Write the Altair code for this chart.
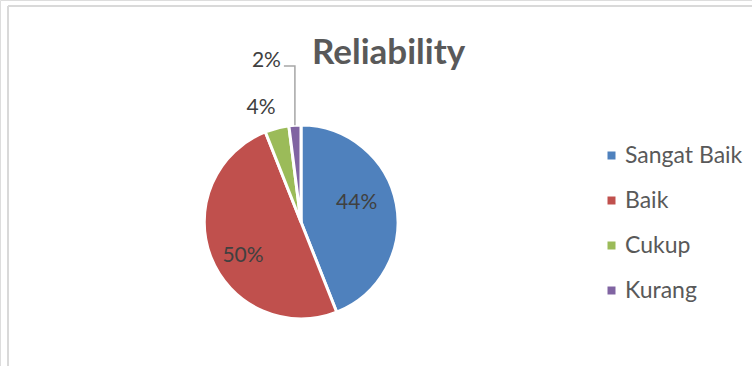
import math
import altair as alt
import pandas as pd

# Survey answers for the "Reliability" dimension
categories = ["Sangat Baik", "Baik", "Cukup", "Kurang"]
percentages = [44, 50, 4, 2]
colors = ["#4f81bd", "#c0504d", "#9bbb59", "#8064a2"]

# data-label placement: distance from the pie centre and angular nudge (degrees)
label_radius = {"Sangat Baik": 59, "Baik": 67, "Cukup": 121, "Kurang": 0}
label_nudge = {"Sangat Baik": -8.4, "Baik": -8.4, "Cukup": -4.9, "Kurang": 0}

FONT = "Lato"
W, H = 752, 366
CX, CY, R = 301, 222, 97

df = pd.DataFrame({
    "category": categories,
    "value": percentages,
    "order": list(range(len(categories))),
})
df["label"] = df["value"].astype(str) + "%"
df["lr"] = df["category"].map(label_radius)
df["nudge"] = df["category"].map(label_nudge)

color_scale = alt.Scale(domain=categories, range=colors)

arcs = alt.Chart(df).mark_arc(outerRadius=R, stroke="white", strokeWidth=3).encode(
    theta=alt.Theta("value:Q", stack=True),
    order=alt.Order("order:Q"),
    x=alt.value(CX),
    y=alt.value(CY),
    color=alt.Color(
        "category:N",
        scale=color_scale,
        sort=categories,
        legend=alt.Legend(
            title=None,
            orient="none",
            legendX=600,
            legendY=144,
            symbolType="square",
            symbolSize=64,
            symbolStrokeWidth=0,
            labelFont=FONT,
            labelFontSize=23,
            labelColor="#595959",
            labelOffset=2,
            rowPadding=21,
            padding=0,
        ),
    ),
)

# in-slice / near-slice percentage labels, placed at each slice's mid angle
labels = (
    alt.Chart(df)
    .transform_joinaggregate(total="sum(value)")
    .transform_window(cum="sum(value)", sort=[alt.SortField("order")], frame=[None, 0])
    .transform_calculate(
        ang="2 * PI * (datum.cum - datum.value / 2) / datum.total + datum.nudge * PI / 180"
    )
    .transform_calculate(
        px=f"{CX} + datum.lr * sin(datum.ang)",
        py=f"{CY} - datum.lr * cos(datum.ang)",
    )
    .transform_filter(alt.datum.lr > 0)
    .mark_text(font=FONT, fontSize=21, color="#404040")
    .encode(
        x=alt.X("px:Q", scale=None),
        y=alt.Y("py:Q", scale=None),
        text="label:N",
    )
)

# leader line and label for the smallest slice
total = sum(percentages)
start = sum(percentages[:3]) / total * 2 * math.pi
end = start + percentages[3] / total * 2 * math.pi
mid = (start + end) / 2
lx = CX + R * math.sin(mid)
ly0 = CY - R * math.cos(mid)
ly = 66
leader_df = pd.DataFrame({"x": [lx, lx, lx - 11], "y": [ly0, ly, ly], "i": [0, 1, 2]})
leader = alt.Chart(leader_df).mark_line(color="#a6a6a6", strokeWidth=1.5).encode(
    x=alt.X("x:Q", scale=None),
    y=alt.Y("y:Q", scale=None),
    order="i:Q",
)
small_label = alt.Chart(
    pd.DataFrame({"x": [lx - 14], "y": [ly - 5], "label": [f"{percentages[3]}%"]})
).mark_text(font=FONT, fontSize=21, color="#404040", align="right", baseline="middle").encode(
    x=alt.X("x:Q", scale=None),
    y=alt.Y("y:Q", scale=None),
    text="label:N",
)

# chart-area border (left and top edges)
one = pd.DataFrame({"k": [0]})
frame_left = alt.Chart(one).mark_rule(color="#d9d9d9", strokeWidth=2).encode(
    x=alt.value(8), y=alt.value(6), y2=alt.value(H)
)
frame_top = alt.Chart(one).mark_rule(color="#d9d9d9", strokeWidth=2).encode(
    x=alt.value(8), x2=alt.value(W), y=alt.value(6)
)

chart = alt.layer(frame_left, frame_top, arcs, labels, leader, small_label).properties(
    width=W,
    height=H,
    autosize=alt.AutoSizeParams(type="none"),
    padding=0,
    title=alt.TitleParams(
        "Reliability",
        font=FONT,
        fontSize=35,
        fontWeight="bold",
        color="#595959",
        anchor="start",
        frame="group",
        baseline="alphabetic",
        dx=312,
        dy=103,
    ),
).configure_view(stroke=None).configure(background="white")

chart.save("out.html", embed_options={"renderer": "svg", "actions": False})
